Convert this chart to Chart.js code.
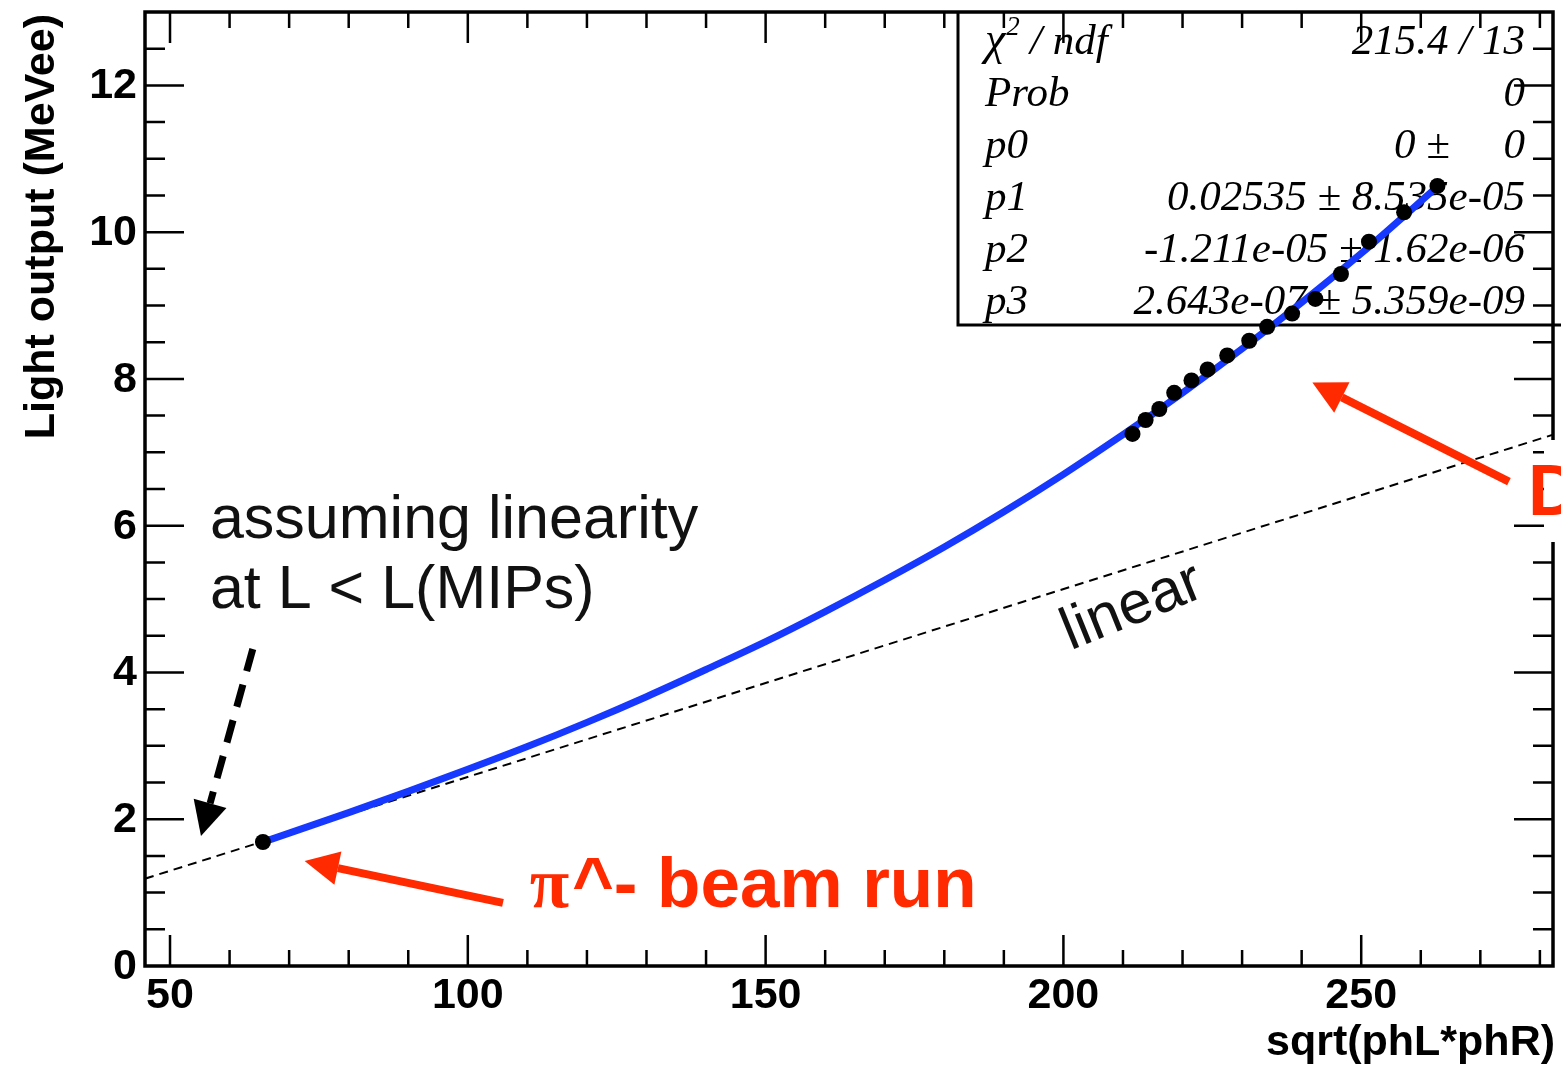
<!DOCTYPE html>
<html>
<head>
<meta charset="utf-8">
<script src="https://cdn.jsdelivr.net/npm/chart.js@4.4.0/dist/chart.umd.min.js"></script>
<style>
  html, body { margin: 0; padding: 0; background: #fff; }
  canvas { display: block; }
</style>
</head>
<body>
<canvas id="lightchart" width="1561" height="1066"></canvas>
<script>
const ctx = document.getElementById('lightchart');

const SANS = '"Liberation Sans", Arial, Helvetica, sans-serif';
const SERIF = '"Liberation Serif", "Times New Roman", serif';
const RED = '#ff2a00';

// measured points: sqrt(phL*phR) -> light output (MeVee)
let phX = [65.6, 211.6, 213.8, 216.1, 218.6, 221.5, 224.2, 227.5, 231.2,
  234.2, 238.4, 242.3, 246.6, 251.3, 257.2, 262.8];
let lightY = [1.69, 7.25, 7.44, 7.59, 7.81, 7.98, 8.13, 8.32, 8.52,
  8.71, 8.89, 9.09, 9.43, 9.87, 10.27, 10.63];

// cubic fit curve, sampled along its length
let fitX = [65.6, 70, 80, 90, 100, 110, 120, 130, 140, 150, 160, 170,
  180, 190, 200, 210, 220, 230, 240, 250, 262.8];
let fitY = [1.69, 1.81, 2.09, 2.38, 2.68, 2.99, 3.32, 3.67, 4.04, 4.42, 4.83, 5.26,
  5.71, 6.19, 6.70, 7.24, 7.81, 8.41, 9.04, 9.71, 10.62];

// straight line through the low point
let linX = [45.8, 282.2];
let linY = [1.19, 7.24];

let xTicks = [50, 100, 150, 200, 250];
let yTicks = [0, 2, 4, 6, 8, 10, 12];
let xMinorStep = 10;
let yMinorStep = 0.5;

let statNames = ['χ2 / ndf', 'Prob', 'p0', 'p1', 'p2', 'p3'];
let statValues = ['215.4 / 13', '0', '0 ±     0', '0.02535 ± 8.535e-05',
  '-1.211e-05 ± 1.62e-06', '2.643e-07 ± 5.359e-09'];

function pts(xs, ys) {
  return xs.map((x, i) => ({ x: x, y: ys[i] }));
}

function arrow(c, x0, y0, x1, y1, opt) {
  const ang = Math.atan2(y1 - y0, x1 - x0);
  const bx = x1 - opt.head * Math.cos(ang);
  const by = y1 - opt.head * Math.sin(ang);
  c.save();
  c.strokeStyle = opt.color;
  c.fillStyle = opt.color;
  c.lineWidth = opt.width;
  c.setLineDash(opt.dash || []);
  c.beginPath();
  c.moveTo(x0, y0);
  c.lineTo(bx, by);
  c.stroke();
  c.setLineDash([]);
  c.beginPath();
  c.moveTo(x1, y1);
  c.lineTo(bx - opt.half * Math.sin(ang), by + opt.half * Math.cos(ang));
  c.lineTo(bx + opt.half * Math.sin(ang), by - opt.half * Math.cos(ang));
  c.closePath();
  c.fill();
  c.restore();
}

const rootFrame = {
  id: 'rootFrame',
  // fit statistics box, sits under the data
  beforeDatasetsDraw(chart) {
    const c = chart.ctx;
    const a = chart.chartArea;
    c.save();
    c.strokeStyle = '#000';
    c.lineWidth = 3;
    c.beginPath();
    c.moveTo(a.right + 20, 325);
    c.lineTo(958, 325);
    c.lineTo(958, a.top);
    c.stroke();

    c.fillStyle = '#000';
    c.font = 'italic 43px ' + SERIF;
    c.textBaseline = 'alphabetic';
    const rows = [54, 106, 158, 210, 262, 314];
    statNames.forEach((n, i) => {
      c.textAlign = 'left';
      if (i === 0) {
        c.font = 'italic 46px ' + SERIF;
        c.fillText('χ', 985, rows[i]);
        const w = c.measureText('χ').width;
        c.font = 'italic 27px ' + SERIF;
        c.fillText('2', 985 + w + 1, rows[i] - 19);
        c.font = 'italic 43px ' + SERIF;
        c.fillText(' / ndf', 985 + w + 14, rows[i]);
      } else {
        c.fillText(n, 985, rows[i]);
      }
      c.textAlign = 'right';
      c.fillText(statValues[i], 1525, rows[i]);
    });
    c.restore();
  },
  // frame, inward ticks, labels, titles
  afterDatasetsDraw(chart) {
    const c = chart.ctx;
    const a = chart.chartArea;
    const xs = chart.scales.x;
    const ys = chart.scales.y;
    c.save();
    c.strokeStyle = '#000';
    c.lineWidth = 2.5;
    c.beginPath();
    for (let v = xTicks[0]; v < xs.max; v += xMinorStep) {
      const p = xs.getPixelForValue(v);
      const len = xTicks.includes(v) ? 31 : 16;
      c.moveTo(p, a.bottom); c.lineTo(p, a.bottom - len);
      c.moveTo(p, a.top); c.lineTo(p, a.top + len);
    }
    for (let v = yMinorStep; v < ys.max; v += yMinorStep) {
      const p = ys.getPixelForValue(v);
      const len = yTicks.includes(v) ? 39 : 20;
      c.moveTo(a.left, p); c.lineTo(a.left + len, p);
      c.moveTo(a.right, p); c.lineTo(a.right - len, p);
    }
    c.stroke();

    c.lineWidth = 3.5;
    c.strokeRect(a.left, a.top, a.right - a.left, a.bottom - a.top);

    c.fillStyle = '#000';
    c.font = 'bold 43px ' + SANS;
    c.textAlign = 'center';
    c.textBaseline = 'alphabetic';
    xTicks.forEach(v => c.fillText(String(v), xs.getPixelForValue(v), 1008));
    c.textAlign = 'right';
    c.textBaseline = 'middle';
    yTicks.forEach(v => c.fillText(String(v), 137, ys.getPixelForValue(v) + 1));

    c.font = 'bold 43px ' + SANS;
    c.textBaseline = 'alphabetic';
    c.textAlign = 'right';
    c.fillText('sqrt(phL*phR)', 1555, 1055);

    c.translate(54, 14);
    c.rotate(-Math.PI / 2);
    c.fillText('Light output (MeVee)', 0, 0);
    c.restore();
  },
  // hand-placed notes and arrows
  afterDraw(chart) {
    const c = chart.ctx;
    const xs = chart.scales.x;
    const ys = chart.scales.y;
    const X = v => xs.getPixelForValue(v);
    const Y = v => ys.getPixelForValue(v);
    c.save();

    c.fillStyle = '#111';
    c.font = '61px ' + SANS;
    c.textAlign = 'left';
    c.textBaseline = 'alphabetic';
    c.fillText('assuming linearity', X(56.7), Y(5.835));
    c.fillText('at L < L(MIPs)', X(56.7), Y(4.88));

    arrow(c, X(63.9), Y(4.32), X(55.2), Y(1.77),
      { color: '#000', width: 7, head: 34, half: 17, dash: [23, 14] });

    c.save();
    c.translate(X(201.2), Y(4.30));
    c.rotate(-22 * Math.PI / 180);
    c.font = '60px ' + SANS;
    c.fillText('linear', 0, 0);
    c.restore();

    arrow(c, X(105.9), Y(0.86), X(72.6), Y(1.43),
      { color: RED, width: 8, head: 34, half: 17 });
    c.fillStyle = RED;
    c.font = 'bold 72px ' + SERIF;
    const bx = X(110.4), by = Y(0.80);
    c.fillText('π', bx, by);
    const pw = c.measureText('π').width;
    c.font = 'bold 71px ' + SANS;
    c.fillText('^- beam run', bx + pw + 3, by);

    arrow(c, X(274.8), Y(6.60), X(241.8), Y(7.95),
      { color: RED, width: 8, head: 33, half: 17 });

    c.fillStyle = '#fff';
    c.fillRect(1544, 440, 30, 102);
    c.fillStyle = RED;
    c.font = 'bold 72px ' + SANS;
    c.fillText('D', 1528, 515);

    c.restore();
  }
};

const data = {
  datasets: [{
    label: 'points',
    data: pts(phX, lightY),
    pointRadius: 8,
    pointBackgroundColor: '#000',
    pointBorderColor: '#000',
    pointBorderWidth: 0,
    showLine: false,
    order: 0
  }, {
    label: 'fit',
    data: pts(fitX, fitY),
    showLine: true,
    borderColor: '#1638ff',
    borderWidth: 7,
    pointRadius: 0,
    cubicInterpolationMode: 'monotone',
    order: 1
  }, {
    label: 'linear',
    data: pts(linX, linY),
    showLine: true,
    borderColor: '#000',
    borderWidth: 2,
    borderDash: [9, 6],
    pointRadius: 0,
    order: 2
  }]
};

const config = {
  type: 'scatter',
  data: data,
  options: {
    responsive: false,
    animation: false,
    layout: { padding: { left: 145, right: 6, top: 12, bottom: 100 } },
    plugins: { legend: { display: false }, tooltip: { enabled: false } },
    scales: {
      x: { type: 'linear', min: 45.8, max: 282.2, display: false },
      y: { type: 'linear', min: 0, max: 13, display: false }
    }
  },
  plugins: [rootFrame]
};

let lightchart = new Chart(ctx, config);
</script>
</body>
</html>
